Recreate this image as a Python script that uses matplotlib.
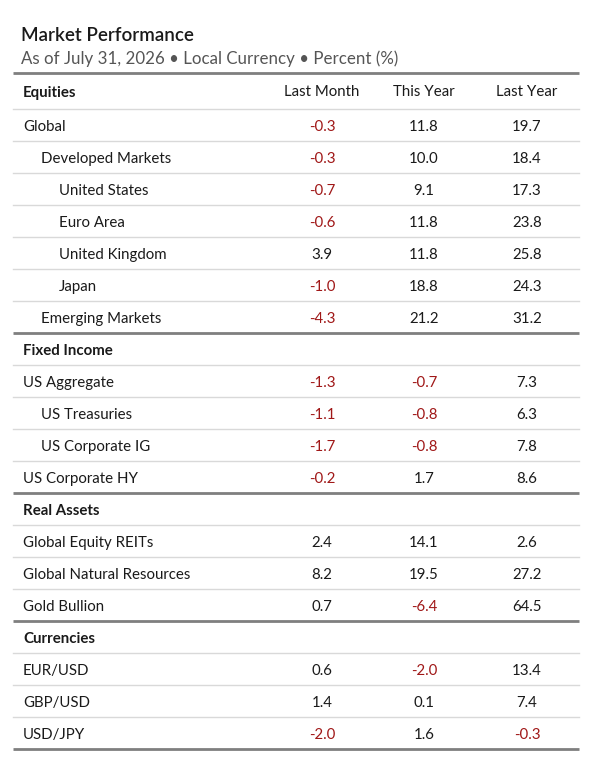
import matplotlib
matplotlib.use("Agg")
import matplotlib.pyplot as plt

title = "Market Performance"
subtitle = "As of July 31, 2026 \u2022 Local Currency \u2022 Percent (%)"
columns = ["Last Month", "This Year", "Last Year"]

sections = ["Equities", "Fixed Income", "Real Assets", "Currencies"]

equity_names = ["Global", "Developed Markets", "United States", "Euro Area",
                "United Kingdom", "Japan", "Emerging Markets"]
equity_levels = [0, 1, 2, 2, 2, 2, 1]
equity_last_month = [-0.3, -0.3, -0.7, -0.6, 3.9, -1.0, -4.3]
equity_this_year = [11.8, 10.0, 9.1, 11.8, 11.8, 18.8, 21.2]
equity_last_year = [19.7, 18.4, 17.3, 23.8, 25.8, 24.3, 31.2]

fixed_names = ["US Aggregate", "US Treasuries", "US Corporate IG", "US Corporate HY"]
fixed_levels = [0, 1, 1, 0]
fixed_last_month = [-1.3, -1.1, -1.7, -0.2]
fixed_this_year = [-0.7, -0.8, -0.8, 1.7]
fixed_last_year = [7.3, 6.3, 7.8, 8.6]

real_names = ["Global Equity REITs", "Global Natural Resources", "Gold Bullion"]
real_levels = [0, 0, 0]
real_last_month = [2.4, 8.2, 0.7]
real_this_year = [14.1, 19.5, -6.4]
real_last_year = [2.6, 27.2, 64.5]

fx_names = ["EUR/USD", "GBP/USD", "USD/JPY"]
fx_levels = [0, 0, 0]
fx_last_month = [0.6, 1.4, -2.0]
fx_this_year = [-2.0, 0.1, 1.6]
fx_last_year = [13.4, 7.4, -0.3]

blocks = [
    (equity_names, equity_levels, equity_last_month, equity_this_year, equity_last_year),
    (fixed_names, fixed_levels, fixed_last_month, fixed_this_year, fixed_last_year),
    (real_names, real_levels, real_last_month, real_this_year, real_last_year),
    (fx_names, fx_levels, fx_last_month, fx_this_year, fx_last_year),
]

FONT = ["Lato", "DejaVu Sans"]
TEXT = "#1a1a1a"
NEG = "#a01818"
THICK = "#7f7f7f"
THIN = "#d9d9d9"

W, H = 612, 764
fig = plt.figure(figsize=(W / 100, H / 100), dpi=100)
ax = fig.add_axes([0, 0, 1, 1])
ax.set_xlim(0, W)
ax.set_ylim(H, 0)
ax.axis("off")

left, right = 13, 579
text_x0 = 23
indent = 18
col_x = [322, 424, 527]
row_h = 32.0
fs = 10.8

ax.text(21, 41, title, fontsize=13.5, fontweight="semibold", color=TEXT,
        family=FONT, va="baseline", ha="left")
ax.text(21, 64, subtitle, fontsize=12.2, fontweight="normal", color="#555555",
        family=FONT, va="baseline", ha="left")
ax.plot([left, right], [72.5, 72.5], color=THICK, lw=2.0, solid_capstyle="butt")

top = 72.0
for bi, (names, levels, lm, ty, ly) in enumerate(blocks):
    # section header row
    hdr_h = 37.0 if bi == 0 else row_h
    base = top + (hdr_h - row_h) / 2 + 22
    ax.text(text_x0, base, sections[bi], fontsize=fs, fontweight="bold", color=TEXT,
            family=FONT, va="baseline", ha="left")
    if bi == 0:
        for cx, c in zip(col_x, columns):
            ax.text(cx, base, c, fontsize=fs, color=TEXT, family=FONT,
                    va="baseline", ha="center")
    top += hdr_h
    ax.plot([left, right], [top, top], color=THIN, lw=1.0)
    for i, name in enumerate(names):
        base = top + 22
        ax.text(text_x0 + indent * levels[i], base, name, fontsize=fs, color=TEXT,
                family=FONT, va="baseline", ha="left")
        for cx, v in zip(col_x, (lm[i], ty[i], ly[i])):
            ax.text(cx, base, f"{v:.1f}", fontsize=fs, color=NEG if v < 0 else TEXT,
                    family=FONT, va="baseline", ha="center")
        top += row_h
        if i == len(names) - 1:
            ax.plot([left, right], [top, top], color=THICK, lw=2.0,
                    solid_capstyle="butt")
        else:
            ax.plot([left, right], [top, top], color=THIN, lw=1.0)

fig.savefig("out.png", dpi=100, facecolor="white")
